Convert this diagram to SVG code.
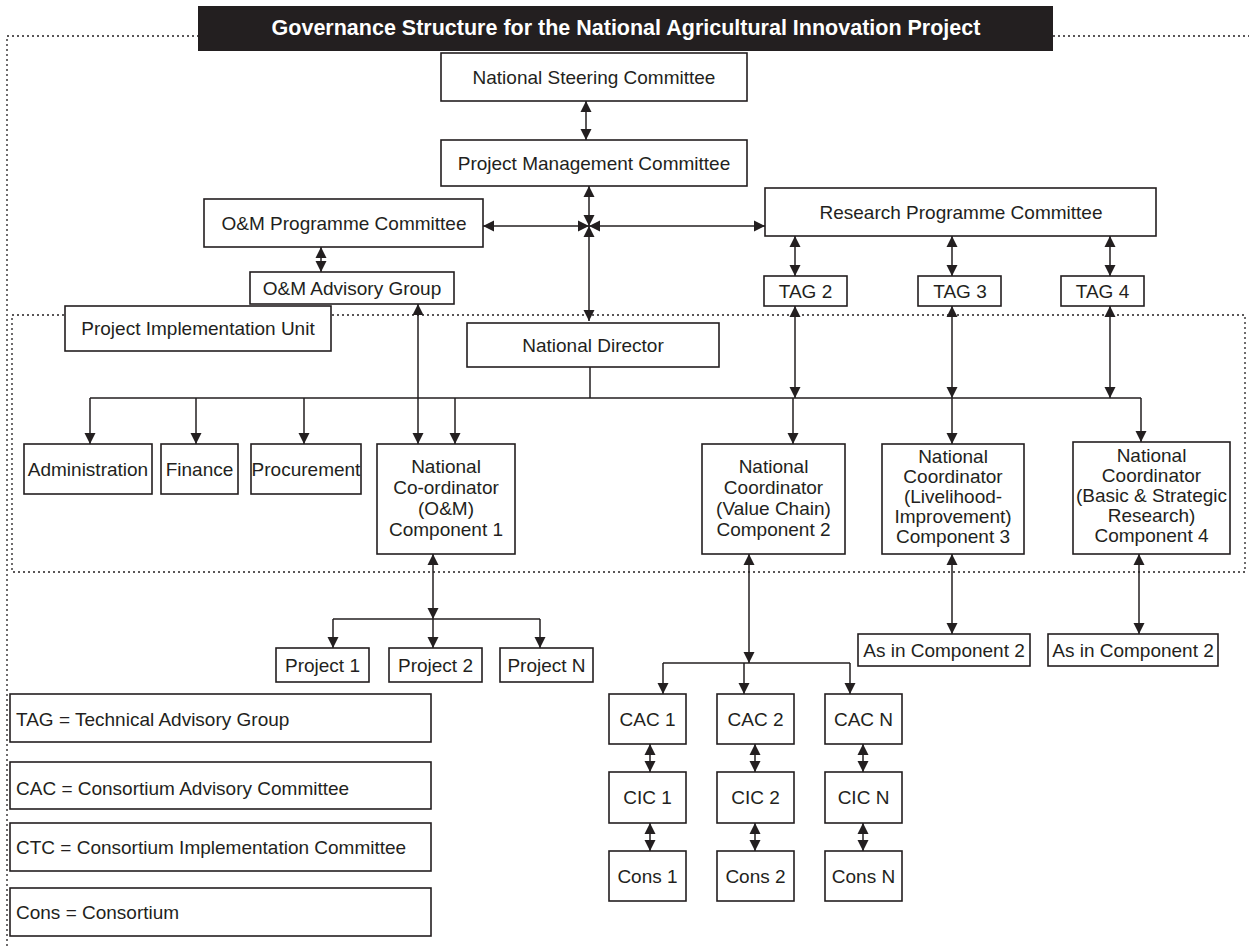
<svg xmlns="http://www.w3.org/2000/svg" width="1249" height="946" viewBox="0 0 1249 946">
<defs>
<style>
.b{fill:#fff;stroke:#231f20;stroke-width:1.6}
.t{font-family:"Liberation Sans",Arial,sans-serif;font-size:19px;fill:#231f20;text-anchor:middle}
.l{font-family:"Liberation Sans",Arial,sans-serif;font-size:19px;fill:#231f20}
.c{fill:none;stroke:#231f20;stroke-width:1.5}
.d{marker-start:url(#ah);marker-end:url(#ah)}
.e{marker-end:url(#ah)}
.dot{fill:none;stroke:#231f20;stroke-width:1.3;stroke-dasharray:2 3}
</style>
<marker id="ah" markerUnits="userSpaceOnUse" markerWidth="12" markerHeight="12" viewBox="0 0 12 12" refX="11" refY="6" orient="auto-start-reverse">
<path d="M0,0.5 L11,6 L0,11.5 Z" fill="#231f20"/>
</marker>
</defs>
<rect width="1249" height="946" fill="#fff"/>
<g id="frames">
<path class="dot" d="M7,946 V36 H198 M1053,36 H1249"/>
<rect class="dot" x="12" y="315" width="1233" height="257"/>
</g>
<g id="title">
<rect x="198" y="6" width="855" height="45" fill="#231f20"/>
<text x="626" y="35" font-family="Liberation Sans,Arial,sans-serif" font-size="21.5" font-weight="bold" fill="#fff" text-anchor="middle">Governance Structure for the National Agricultural Innovation Project</text>
</g>
<g id="connectors">
<path class="c d" d="M586,101 V140"/>
<path class="c d" d="M589,186 V226"/>
<path class="c d" d="M589,226 V321"/>
<path class="c d" d="M589,226 H483"/>
<path class="c d" d="M589,226 H765"/>
<path class="c d" d="M321,247 V272"/>
<path class="c d" d="M795,236 V276"/>
<path class="c d" d="M952,236 V276"/>
<path class="c d" d="M1110,236 V276"/>
<path class="c d" d="M418,304 V444"/>
<path class="c d" d="M795,306 V398"/>
<path class="c d" d="M952,306 V398"/>
<path class="c d" d="M1110,306 V398"/>
<path class="c" d="M590,367 V398 M90,398 H1141"/>
<path class="c e" d="M90,398 V444"/>
<path class="c e" d="M196,398 V444"/>
<path class="c e" d="M304,398 V444"/>
<path class="c e" d="M455,398 V444"/>
<path class="c e" d="M793,398 V444"/>
<path class="c e" d="M952,398 V444"/>
<path class="c e" d="M1141,398 V442"/>
<path class="c d" d="M433,554 V619"/>
<path class="c" d="M333,619 H540"/>
<path class="c e" d="M333,619 V648"/>
<path class="c e" d="M433,619 V648"/>
<path class="c e" d="M540,619 V648"/>
<path class="c d" d="M749,554 V663"/>
<path class="c" d="M663,663 H850"/>
<path class="c e" d="M663,663 V694"/>
<path class="c e" d="M744,663 V694"/>
<path class="c e" d="M850,663 V694"/>
<path class="c d" d="M952,554 V634"/>
<path class="c d" d="M1139,554 V634"/>
<path class="c d" d="M650,744 V772"/>
<path class="c d" d="M755,744 V772"/>
<path class="c d" d="M863,744 V772"/>
<path class="c d" d="M650,823 V851"/>
<path class="c d" d="M755,823 V851"/>
<path class="c d" d="M863,823 V851"/>
</g>
<g id="nsc"><rect class="b" x="441" y="53" width="306" height="48"/><text class="t" x="594" y="83.5">National Steering Committee</text></g>
<g id="pmc"><rect class="b" x="441" y="140" width="306" height="46"/><text class="t" x="594" y="169.5">Project Management Committee</text></g>
<g id="om-pc"><rect class="b" x="204" y="199" width="279" height="48"/><text class="t" x="344" y="229.5">O&amp;M Programme Committee</text></g>
<g id="rpc"><rect class="b" x="765" y="188" width="391" height="48"/><text class="t" x="961" y="218.5">Research Programme Committee</text></g>
<g id="om-ag"><rect class="b" x="250" y="272" width="204" height="32"/><text class="t" x="352" y="294.5">O&amp;M Advisory Group</text></g>
<g id="tag2"><rect class="b" x="764" y="276" width="83" height="30"/><text class="t" x="805.5" y="297.5">TAG 2</text></g>
<g id="tag3"><rect class="b" x="918" y="276" width="83" height="30"/><text class="t" x="960" y="297.5">TAG 3</text></g>
<g id="tag4"><rect class="b" x="1061" y="276" width="83" height="30"/><text class="t" x="1102.5" y="297.5">TAG 4</text></g>
<g id="piu"><rect class="b" x="65" y="306" width="266" height="45"/><text class="t" x="198" y="335">Project Implementation Unit</text></g>
<g id="nd"><rect class="b" x="467" y="323" width="252" height="44"/><text class="t" x="593" y="351.5">National Director</text></g>
<g id="admin"><rect class="b" x="24" y="444" width="128" height="50"/><text class="t" x="88" y="475.5">Administration</text></g>
<g id="finance"><rect class="b" x="161" y="444" width="77" height="50"/><text class="t" x="199.5" y="475.5">Finance</text></g>
<g id="procurement"><rect class="b" x="251" y="444" width="110" height="50"/><text class="t" x="306" y="475.5">Procurement</text></g>
<g id="nc1"><rect class="b" x="377" y="444" width="138" height="110"/>
<text class="t" x="446" y="472.5">National</text><text class="t" x="446" y="493.5">Co-ordinator</text><text class="t" x="446" y="514.5">(O&amp;M)</text><text class="t" x="446" y="535.5">Component 1</text></g>
<g id="nc2"><rect class="b" x="702" y="444" width="143" height="110"/>
<text class="t" x="773.5" y="472.5">National</text><text class="t" x="773.5" y="493.5">Coordinator</text><text class="t" x="773.5" y="514.5">(Value Chain)</text><text class="t" x="773.5" y="535.5">Component 2</text></g>
<g id="nc3"><rect class="b" x="882" y="444" width="142" height="110"/>
<text class="t" x="953" y="463">National</text><text class="t" x="953" y="483">Coordinator</text><text class="t" x="953" y="503">(Livelihood-</text><text class="t" x="953" y="523">Improvement)</text><text class="t" x="953" y="543">Component 3</text></g>
<g id="nc4"><rect class="b" x="1073" y="442" width="157" height="112"/>
<text class="t" x="1151.5" y="462">National</text><text class="t" x="1151.5" y="482">Coordinator</text><text class="t" x="1151.5" y="502">(Basic &amp; Strategic</text><text class="t" x="1151.5" y="522">Research)</text><text class="t" x="1151.5" y="542">Component 4</text></g>
<g id="p1"><rect class="b" x="276" y="648" width="93" height="34"/><text class="t" x="322.5" y="671.5">Project 1</text></g>
<g id="p2"><rect class="b" x="389" y="648" width="93" height="34"/><text class="t" x="435.5" y="671.5">Project 2</text></g>
<g id="pn"><rect class="b" x="500" y="648" width="93" height="34"/><text class="t" x="546.5" y="671.5">Project N</text></g>
<g id="as3"><rect class="b" x="858" y="634" width="172" height="32"/><text class="t" x="944" y="656.5">As in Component 2</text></g>
<g id="as4"><rect class="b" x="1048" y="634" width="170" height="32"/><text class="t" x="1133" y="656.5">As in Component 2</text></g>
<g id="cac1"><rect class="b" x="609" y="694" width="77" height="50"/><text class="t" x="647.5" y="725.5">CAC 1</text></g>
<g id="cac2"><rect class="b" x="717" y="694" width="77" height="50"/><text class="t" x="755.5" y="725.5">CAC 2</text></g>
<g id="cacn"><rect class="b" x="825" y="694" width="77" height="50"/><text class="t" x="863.5" y="725.5">CAC N</text></g>
<g id="cic1"><rect class="b" x="609" y="772" width="77" height="51"/><text class="t" x="647.5" y="804">CIC 1</text></g>
<g id="cic2"><rect class="b" x="717" y="772" width="77" height="51"/><text class="t" x="755.5" y="804">CIC 2</text></g>
<g id="cicn"><rect class="b" x="825" y="772" width="77" height="51"/><text class="t" x="863.5" y="804">CIC N</text></g>
<g id="cons1"><rect class="b" x="609" y="851" width="77" height="50"/><text class="t" x="647.5" y="882.5">Cons 1</text></g>
<g id="cons2"><rect class="b" x="717" y="851" width="77" height="50"/><text class="t" x="755.5" y="882.5">Cons 2</text></g>
<g id="consn"><rect class="b" x="825" y="851" width="77" height="50"/><text class="t" x="863.5" y="882.5">Cons N</text></g>
<g id="legend-tag"><rect class="b" x="10" y="694" width="421" height="48"/><text class="l" x="16" y="725.5">TAG = Technical Advisory Group</text></g>
<g id="legend-cac"><rect class="b" x="10" y="762" width="421" height="47"/><text class="l" x="16" y="794.5">CAC = Consortium Advisory Committee</text></g>
<g id="legend-ctc"><rect class="b" x="10" y="823" width="421" height="48"/><text class="l" x="16" y="853.5">CTC = Consortium Implementation Committee</text></g>
<g id="legend-cons"><rect class="b" x="10" y="888" width="421" height="48"/><text class="l" x="16" y="919">Cons = Consortium</text></g>
</svg>
